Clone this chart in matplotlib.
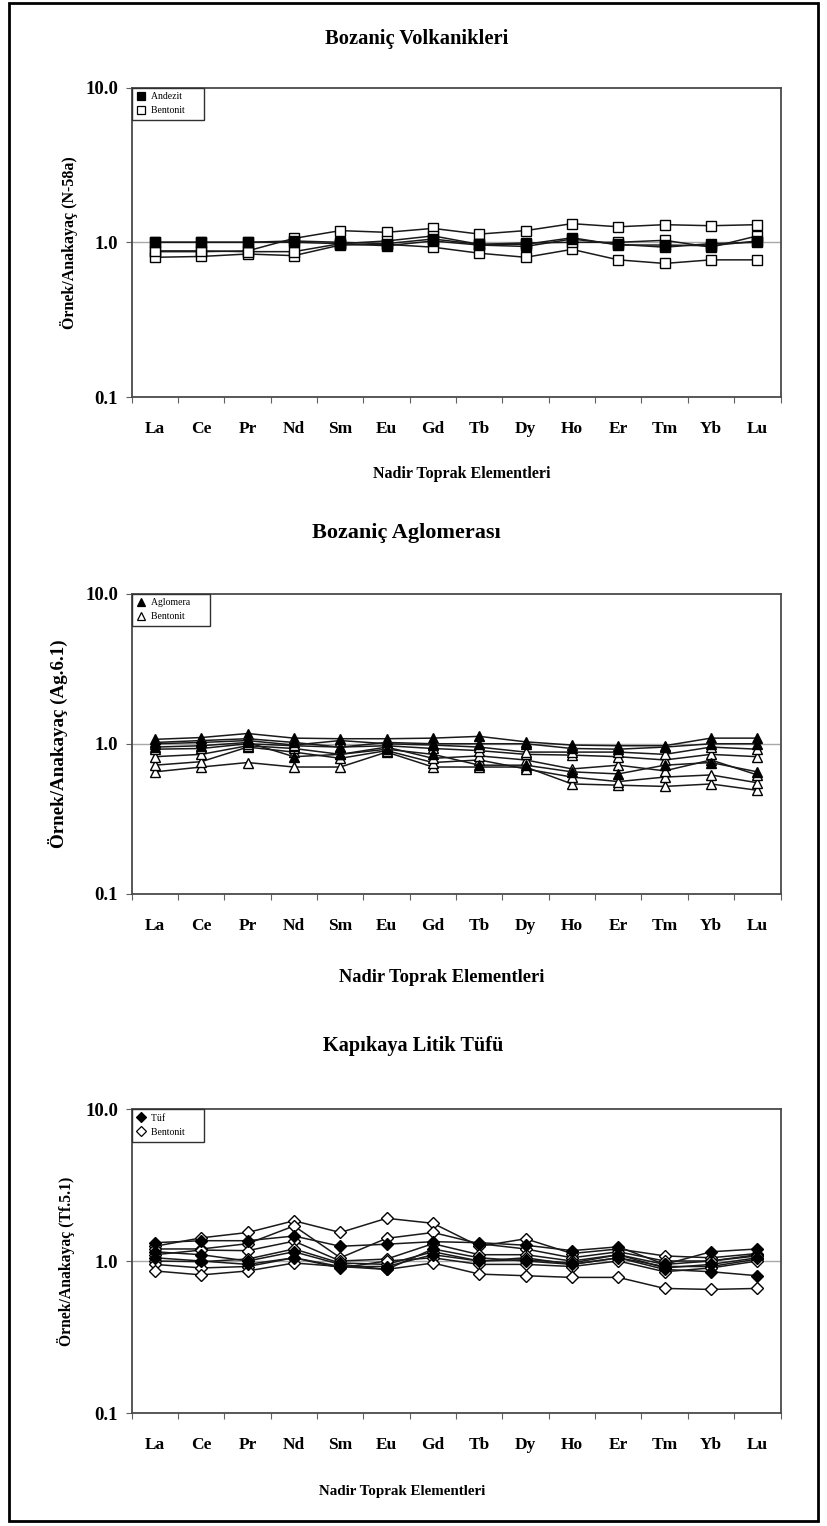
import matplotlib
matplotlib.use("Agg")
import matplotlib.pyplot as plt
from matplotlib.lines import Line2D
from matplotlib.patches import Rectangle
from matplotlib.ticker import FixedLocator, NullFormatter

plt.rcParams['font.family'] = ['Liberation Serif', 'DejaVu Serif']

elements = ["La", "Ce", "Pr", "Nd", "Sm", "Eu", "Gd", "Tb", "Dy", "Ho", "Er", "Tm", "Yb", "Lu"]

# Bozaniç Volkanikleri, normalised to N-58a
andezit = [
    [1.00, 1.00, 1.00, 1.00, 0.98, 0.95, 1.02, 0.96, 0.94, 1.05, 0.97, 0.93, 0.98, 1.00],
    [1.00, 1.00, 1.00, 1.02, 1.00, 0.98, 1.05, 0.97, 0.97, 1.07, 0.96, 0.96, 0.95, 1.02],
]
bentonit_v = [
    [0.87, 0.87, 0.88, 1.06, 1.19, 1.16, 1.23, 1.13, 1.19, 1.32, 1.26, 1.30, 1.28, 1.30],
    [0.80, 0.81, 0.84, 0.82, 0.96, 0.97, 0.93, 0.85, 0.80, 0.90, 0.77, 0.73, 0.77, 0.77],
    [0.88, 0.88, 0.87, 0.87, 0.98, 1.02, 1.10, 0.97, 0.99, 1.00, 1.00, 1.03, 0.93, 1.10],
]

# Bozaniç Aglomerası, normalised to Ag.6.1
aglomera = [
    [1.07, 1.10, 1.17, 1.09, 1.08, 1.08, 1.09, 1.12, 1.03, 0.98, 0.97, 0.97, 1.09, 1.09],
    [0.95, 0.97, 1.02, 0.82, 0.85, 0.92, 0.85, 0.72, 0.72, 0.65, 0.63, 0.72, 0.75, 0.65],
    [1.02, 1.05, 1.08, 1.02, 0.95, 1.02, 1.00, 1.00, 1.00, 0.93, 0.92, 0.95, 1.00, 1.00],
]
bentonit_a = [
    [0.65, 0.70, 0.75, 0.70, 0.70, 0.88, 0.70, 0.70, 0.70, 0.54, 0.53, 0.52, 0.54, 0.49],
    [0.72, 0.76, 0.95, 0.88, 0.80, 0.90, 0.75, 0.78, 0.68, 0.60, 0.56, 0.60, 0.62, 0.55],
    [0.82, 0.85, 0.97, 0.93, 0.85, 0.95, 0.80, 0.83, 0.78, 0.68, 0.72, 0.66, 0.78, 0.62],
    [0.92, 0.93, 1.00, 0.97, 0.95, 0.97, 0.93, 0.90, 0.85, 0.84, 0.82, 0.78, 0.85, 0.82],
    [1.00, 1.02, 1.05, 0.98, 1.05, 1.00, 0.98, 0.95, 0.88, 0.88, 0.88, 0.85, 0.95, 0.92],
]

# Kapıkaya Litik Tüfü, normalised to Tf.5.1
tuf = [
    [1.32, 1.36, 1.36, 1.46, 1.25, 1.29, 1.34, 1.32, 1.27, 1.17, 1.24, 0.95, 1.15, 1.20],
    [1.15, 1.10, 1.00, 1.15, 0.95, 0.88, 1.20, 1.05, 1.00, 0.95, 1.05, 0.88, 0.85, 0.80],
    [1.05, 1.00, 0.95, 1.05, 0.92, 0.92, 1.10, 1.00, 1.02, 0.97, 1.10, 0.90, 0.95, 1.05],
]
bentonit_t = [
    [1.25, 1.42, 1.54, 1.84, 1.54, 1.91, 1.77, 1.25, 1.40, 1.12, 1.20, 1.08, 1.05, 1.12],
    [1.20, 1.20, 1.30, 1.70, 1.05, 1.41, 1.54, 1.30, 1.20, 1.05, 1.15, 1.00, 1.00, 1.10],
    [1.10, 1.18, 1.17, 1.35, 1.00, 1.03, 1.30, 1.10, 1.10, 1.00, 1.10, 0.95, 1.00, 1.08],
    [1.00, 0.99, 1.03, 1.20, 0.97, 0.95, 1.15, 1.00, 1.05, 0.95, 1.05, 0.92, 0.92, 1.03],
    [0.95, 0.90, 0.92, 1.05, 0.90, 1.00, 1.05, 0.95, 0.95, 0.92, 1.00, 0.85, 0.90, 1.00],
    [0.86, 0.81, 0.86, 0.97, 0.92, 0.88, 0.97, 0.82, 0.80, 0.78, 0.78, 0.66, 0.65, 0.66],
]

W, H = 827, 1526
fig = plt.figure(figsize=(W / 100, H / 100), dpi=100)


def fx(px):
    return px / W


def fy(py):
    return 1 - py / H


# outer border
fig.add_artist(Rectangle((fx(9), fy(1521)), fx(818) - fx(9), fy(3) - fy(1521),
                         transform=fig.transFigure, fill=False, lw=2.0, ec="black"))

panels = [
    dict(top=87.6, bottom=397, title="Bozaniç Volkanikleri", title_x=417, title_y=39, title_fs=14.8,
         xlabel_x=462, xlabel_y=474, xlabel_fs=11.5, ylabel="Örnek/Anakayaç (N-58a)", ylabel_x=68.6,
         ylabel_fs=11.5, marker="s", groups=[("Andezit", andezit, "black"), ("Bentonit", bentonit_v, "white")]),
    dict(top=593.5, bottom=894, title="Bozaniç Aglomerası", title_x=406, title_y=533, title_fs=16,
         xlabel_x=442, xlabel_y=978, xlabel_fs=13.3, ylabel="Örnek/Anakayaç (Ag.6.1)", ylabel_x=58,
         ylabel_fs=13.7, marker="^", groups=[("Aglomera", aglomera, "black"), ("Bentonit", bentonit_a, "white")]),
    dict(top=1109, bottom=1413, title="Kapıkaya Litik Tüfü", title_x=413, title_y=1046, title_fs=14.6,
         xlabel_x=402, xlabel_y=1491, xlabel_fs=10.8, ylabel="Örnek/Anakayaç (Tf.5.1)", ylabel_x=66,
         ylabel_fs=11.3, marker="D", groups=[("Tüf", tuf, "black"), ("Bentonit", bentonit_t, "white")]),
]

left_px, right_px = 131.8, 780.5
x = list(range(len(elements)))

for p in panels:
    ax = fig.add_axes([fx(left_px), fy(p["bottom"]), fx(right_px) - fx(left_px),
                       fy(p["top"]) - fy(p["bottom"])])
    ax.set_yscale("log")
    ax.set_ylim(0.1, 10)
    ax.set_xlim(-0.5, len(elements) - 0.5)
    ax.axhline(1.0, color="#a8a8a8", lw=1.0, zorder=0)

    msize = 7.5 if p["marker"] != "D" else 6.5
    # bentonit drawn first, the rock series on top
    for name, series, face in reversed(p["groups"]):
        for vals in series:
            ax.plot(x, vals, color="#1a1a1a", lw=1.1, marker=p["marker"], ms=msize,
                    mfc=face, mec="black", mew=1.0, zorder=3 if face == "black" else 2)
    handles = [Line2D([], [], ls="none", marker=p["marker"], ms=5.5, mfc=face,
                      mec="black", mew=0.9, label=name + "\u2007\u2007\u2007")
               for name, series, face in p["groups"]]

    leg = ax.legend(handles=handles, loc="upper left", bbox_to_anchor=(0, 1), borderaxespad=0,
                    frameon=True, fancybox=False, framealpha=1, edgecolor="#303030",
                    prop=dict(family="Liberation Serif", size=7), handlelength=0.8,
                    handletextpad=0.7, borderpad=0.5, labelspacing=0.5)
    leg.get_frame().set_linewidth(1.0)
    leg.set_zorder(5)

    # y axis
    ax.yaxis.set_major_locator(FixedLocator([0.1, 1.0, 10.0]))
    ax.yaxis.set_minor_locator(FixedLocator([]))
    ax.set_yticklabels(["0.1", "1.0", "10.0"], fontsize=13.5, fontweight="bold")
    ax.tick_params(axis="y", which="major", direction="out", length=4, width=0.8,
                   color="#606060", pad=6)

    # x axis: labels at categories, tick marks between them
    ax.xaxis.set_major_locator(FixedLocator(x))
    ax.set_xticklabels(elements, fontsize=12.5, fontweight="bold")
    ax.xaxis.set_minor_locator(FixedLocator([i - 0.5 for i in range(len(elements) + 1)]))
    ax.xaxis.set_minor_formatter(NullFormatter())
    ax.tick_params(axis="x", which="major", length=0, pad=17)
    ax.tick_params(axis="x", which="minor", direction="out", length=4, width=0.8,
                   color="#606060")

    for s in ax.spines.values():
        s.set_color("#4a4a4a")
        s.set_linewidth(1.3)

    fig.text(fx(p["title_x"]), fy(p["title_y"]), p["title"],
             ha="center", va="center", fontsize=p["title_fs"], fontweight="bold")
    fig.text(fx(p["xlabel_x"]), fy(p["xlabel_y"]), "Nadir Toprak Elementleri",
             ha="center", va="center", fontsize=p["xlabel_fs"], fontweight="bold")
    fig.text(fx(p["ylabel_x"]), 0.5 * (fy(p["top"]) + fy(p["bottom"])), p["ylabel"],
             ha="center", va="center", rotation=90, fontsize=p["ylabel_fs"], fontweight="bold")

fig.savefig("out.png", dpi=100)
